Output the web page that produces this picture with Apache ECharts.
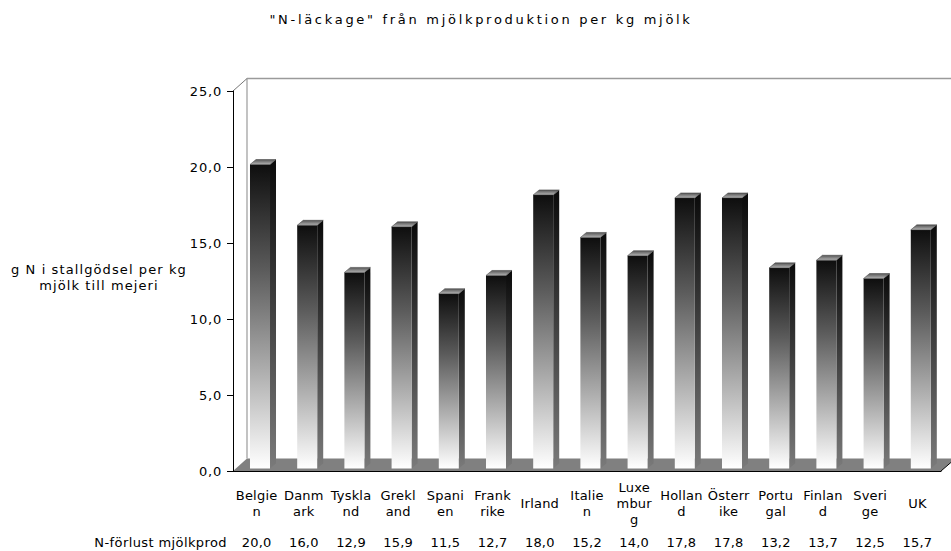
<!DOCTYPE html>
<html>
<head>
<meta charset="utf-8">
<script src="https://cdn.jsdelivr.net/npm/echarts@6/dist/echarts.min.js"></script>
<style>
  html, body { margin: 0; padding: 0; background: #ffffff; }
  #chart { width: 951px; height: 551px; }
  #chart text { letter-spacing: 0.2px; }
</style>
</head>
<body>
<div id="chart"></div>
<script>
// Countries along the category axis
const categories = ['Belgien', 'Danmark', 'Tyskland', 'Grekland', 'Spanien', 'Frankrike', 'Irland',
  'Italien', 'Luxemburg', 'Holland', 'Österrike', 'Portugal', 'Finland', 'Sverige', 'UK'];
// Category tick labels, wrapped into narrow columns
const categoryLabels = ['Belgie\nn', 'Danm\nark', 'Tyskla\nnd', 'Grekl\nand', 'Spani\nen', 'Frank\nrike', 'Irland',
  'Italie\nn', 'Luxe\nmbur\ng', 'Hollan\nd', 'Österr\nike', 'Portu\ngal', 'Finlan\nd', 'Sveri\nge', 'UK'];
// g N i stallgödsel per kg mjölk
const nLoss = [20.0, 16.0, 12.9, 15.9, 11.5, 12.7, 18.0, 15.2, 14.0, 17.8, 17.8, 13.2, 13.7, 12.5, 15.7];
// Value axis range
const yMin = 0, yMax = 25, yStep = 5;

const chartTitle = '"N-läckage" från mjölkproduktion per kg mjölk';
const yAxisTitle = 'g N i stallgödsel per kg\nmjölk till mejeri';
const rowTitle = 'N-förlust mjölkprod';

const fmt = v => v.toFixed(1).replace('.', ',');
const FONT = 'DejaVu Sans, Verdana, sans-serif';
const FS = 13;

const chart = echarts.init(document.getElementById('chart'), null, { renderer: 'svg' });

// Pseudo-3D box: left wall, back wall edges and floor
function renderFrame(params, api) {
  const cs = params.coordSys;
  const x0 = cs.x, y0 = cs.y, x1 = cs.x + cs.width, y1 = cs.y + cs.height;
  const dx = 14, dy = 12.5;
  return {
    type: 'group',
    children: [
      { type: 'polygon', shape: { points: [[x0, y1], [x0 + dx, y1 - dy], [x1 + dx, y1 - dy], [x1, y1]] },
        style: { fill: '#808080' } },
      { type: 'line', shape: { x1: x0 + dx, y1: y0 - dy, x2: x0 + dx, y2: y1 - dy },
        style: { stroke: '#9a9a9a', lineWidth: 1.2 } },
      { type: 'line', shape: { x1: x0 + dx, y1: y0 - dy, x2: x1 + dx + 20, y2: y0 - dy },
        style: { stroke: '#9a9a9a', lineWidth: 1.5 } },
      { type: 'line', shape: { x1: x0, y1: y0, x2: x0 + dx, y2: y0 - dy },
        style: { stroke: '#777777', lineWidth: 1 } },
      { type: 'line', shape: { x1: x1, y1: y1, x2: x1 + 11, y2: y1 - 9.5 },
        style: { stroke: '#000000', lineWidth: 1 } }
    ]
  };
}

const frontGrad = new echarts.graphic.LinearGradient(0, 0, 0, 1, [
  { offset: 0, color: '#0e0e0e' },
  { offset: 0.35, color: '#5c5c5c' },
  { offset: 0.7, color: '#b3b3b3' },
  { offset: 1, color: '#ffffff' }
]);
const sideGrad = new echarts.graphic.LinearGradient(0, 0, 0, 1, [
  { offset: 0, color: '#0a0a0a' },
  { offset: 1, color: '#7a7a7a' }
]);
const topGrad = new echarts.graphic.LinearGradient(0, 0, 0, 1, [
  { offset: 0, color: '#555555' },
  { offset: 1, color: '#b4b4b4' }
]);

// Pseudo-3D bar: front face, side face and top cap
function renderBar(params, api) {
  const idx = api.value(0);
  const top = api.coord([idx, api.value(1)]);
  const base = api.coord([idx, 0]);
  const band = api.size([1, 0])[0];
  const w = band * 0.424;
  const x = top[0] - band * 0.14;
  const lift = 2.5, sx = 6, sy = 5;
  const yT = top[1] - lift, yB = base[1] - lift;
  return {
    type: 'group',
    children: [
      { type: 'polygon', shape: { points: [[x + w, yT], [x + w + sx, yT - sy], [x + w + sx, yB - sy], [x + w, yB]] },
        style: { fill: sideGrad } },
      { type: 'rect', shape: { x: x, y: yT, width: w, height: yB - yT }, style: { fill: frontGrad } },
      { type: 'polygon', shape: { points: [[x, yT], [x + sx, yT - sy], [x + w + sx, yT - sy], [x + w, yT]] },
        style: { fill: topGrad, stroke: '#3a3a3a', lineWidth: 0.5 } }
    ]
  };
}

chart.setOption({
  animation: false,
  backgroundColor: '#ffffff',
  textStyle: { fontFamily: FONT },
  grid: { left: 233, right: 10, top: 91, bottom: 80, containLabel: false },
  xAxis: [
    {
      type: 'category',
      data: categories,
      position: 'bottom',
      z: 10,
      axisLine: { show: true, lineStyle: { color: '#000000', width: 1 } },
      axisTick: { show: false },
      splitLine: { show: false },
      axisLabel: {
        interval: 0,
        margin: 32,
        verticalAlign: 'middle',
        lineHeight: 16,
        color: '#000000',
        fontFamily: FONT,
        fontSize: FS,
        formatter: (v, i) => categoryLabels[i]
      }
    },
    {
      type: 'category',
      data: categories,
      position: 'bottom',
      axisLine: { show: false },
      axisTick: { show: false },
      splitLine: { show: false },
      axisLabel: {
        interval: 0,
        margin: 71,
        verticalAlign: 'middle',
        color: '#000000',
        fontFamily: FONT,
        fontSize: FS,
        formatter: (v, i) => fmt(nLoss[i])
      }
    }
  ],
  yAxis: {
    type: 'value',
    min: yMin,
    max: yMax,
    interval: yStep,
    z: 10,
    axisLine: { show: true, lineStyle: { color: '#000000', width: 1 } },
    axisTick: { show: true, length: 6, lineStyle: { color: '#000000' } },
    splitLine: { show: false },
    axisLabel: { margin: 11, color: '#000000', fontFamily: FONT, fontSize: FS, formatter: v => fmt(v) }
  },
  graphic: [
    { type: 'text', x: 481, y: 19,
      style: { text: chartTitle, fill: '#000000', font: FS + 'px ' + FONT, align: 'center', verticalAlign: 'middle' } },
    { type: 'text', x: 99, y: 277,
      style: { text: yAxisTitle, fill: '#000000', font: FS + 'px ' + FONT, align: 'center', verticalAlign: 'middle', lineHeight: 16 } },
    { type: 'text', x: 227, y: 542,
      style: { text: rowTitle, fill: '#000000', font: FS + 'px ' + FONT, align: 'right', verticalAlign: 'middle' } }
  ],
  series: [
    {
      type: 'custom',
      name: 'frame',
      xAxisIndex: 0, yAxisIndex: 0,
      z: 1,
      silent: true,
      clip: false,
      data: [[0, 0]],
      renderItem: renderFrame
    },
    {
      type: 'custom',
      name: rowTitle,
      xAxisIndex: 0, yAxisIndex: 0,
      z: 3,
      clip: false,
      data: nLoss.map((v, i) => [i, v]),
      encode: { x: 0, y: 1 },
      renderItem: renderBar
    }
  ]
});

// Wider tracking for the heading and the axis title
function applySpacing() {
  const yLines = yAxisTitle.split('\n');
  document.querySelectorAll('#chart text').forEach(t => {
    const s = t.textContent;
    if (s === chartTitle) t.style.letterSpacing = '2.7px';
    else if (yLines.includes(s)) t.style.letterSpacing = '1.1px';
    else if (s === rowTitle) t.style.letterSpacing = '0.4px';
    else if (/^\d+,\d$/.test(s) && t.getAttribute('text-anchor') === 'end') t.style.letterSpacing = '0.8px';
  });
}
chart.on('finished', applySpacing);
applySpacing();
</script>
</body>
</html>
